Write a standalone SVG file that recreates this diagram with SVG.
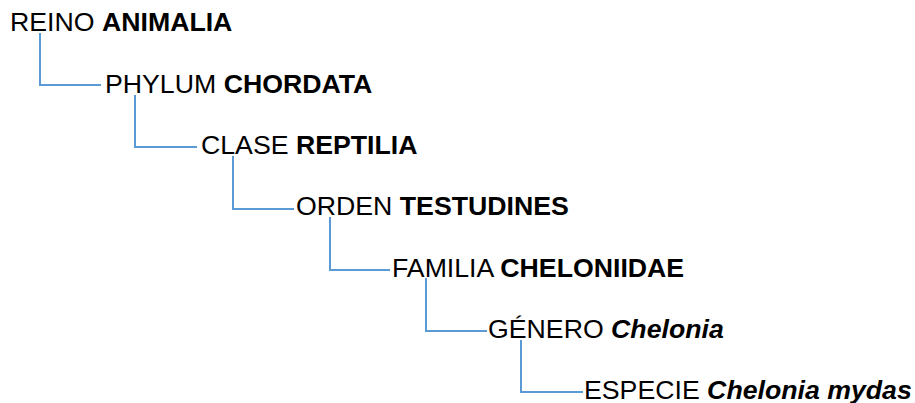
<svg xmlns="http://www.w3.org/2000/svg" width="915" height="403" viewBox="0 0 915 403">
<style>
text{font-family:"Liberation Sans",Arial,sans-serif;font-size:26.7px;fill:#000}
.b{font-weight:bold}
.bi{font-weight:bold;font-style:italic}
.c{fill:none;stroke:#5B9BD5;stroke-width:2}
</style>
<rect width="915" height="403" fill="#fff"/>
<g id="connectors">
<path class="c" d="M40 33V85H101"/>
<path class="c" d="M135 95V147H197"/>
<path class="c" d="M233 156V209H294"/>
<path class="c" d="M330 217V270H390"/>
<path class="c" d="M426 278V331H487"/>
<path class="c" d="M521 340V392H583"/>
</g>
<g id="reino"><text x="10" y="31">REINO <tspan class="b">ANIMALIA</tspan></text></g>
<g id="phylum"><text x="105" y="93">PHYLUM <tspan class="b">CHORDATA</tspan></text></g>
<g id="clase"><text x="201" y="154">CLASE <tspan class="b">REPTILIA</tspan></text></g>
<g id="orden"><text x="296" y="215">ORDEN <tspan class="b">TESTUDINES</tspan></text></g>
<g id="familia"><text x="392" y="277">FAMILIA <tspan class="b">CHELONIIDAE</tspan></text></g>
<g id="genero"><text x="488" y="338">GÉNERO <tspan class="bi">Chelonia</tspan></text></g>
<g id="especie"><text x="584" y="399">ESPECIE <tspan class="bi">Chelonia mydas</tspan></text></g>
</svg>
